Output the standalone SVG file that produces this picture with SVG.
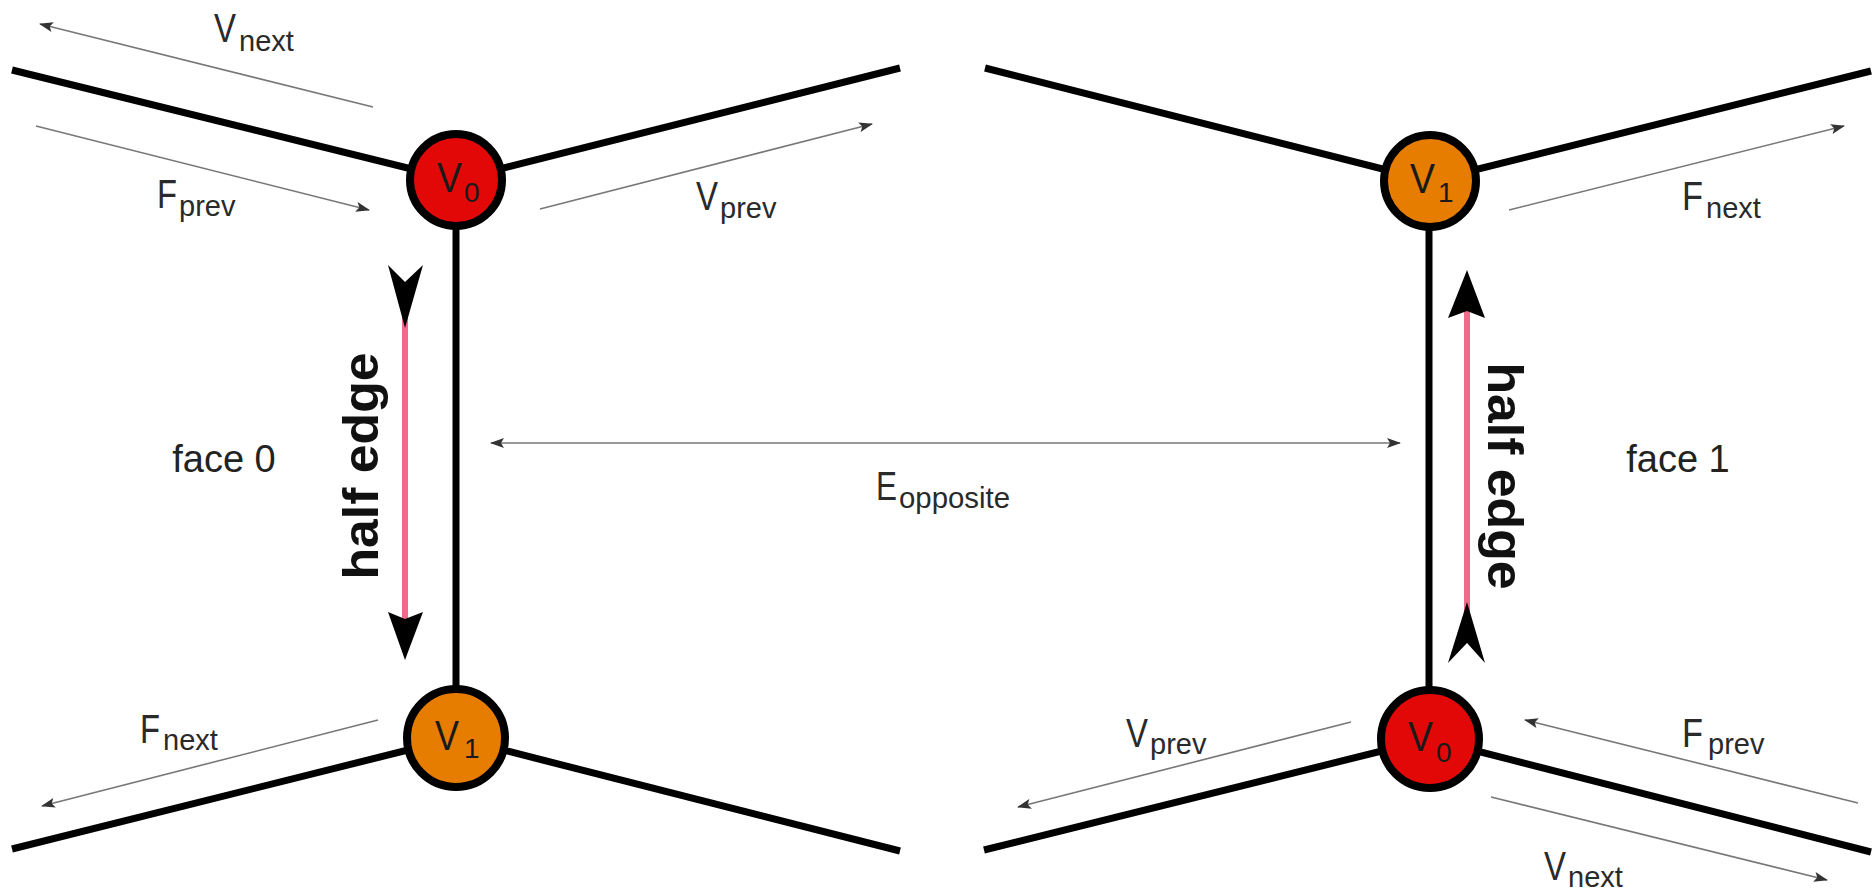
<svg xmlns="http://www.w3.org/2000/svg" width="1876" height="894" viewBox="0 0 1876 894">
<style>
.edge{stroke:#000;stroke-width:7;fill:none;stroke-linecap:butt}
.thin{stroke:#777;stroke-width:1.6;fill:none;marker-end:url(#ah)}
.v0{fill:#e30808;stroke:#000;stroke-width:8}
.v1{fill:#e67c00;stroke:#000;stroke-width:8}
.big{font-family:"Liberation Sans",Arial,sans-serif;font-size:40px;fill:#2a2a2a}
.sub{font-family:"Liberation Sans",Arial,sans-serif;font-size:29px;fill:#2a2a2a}
.cv{font-family:"Liberation Sans",Arial,sans-serif;font-size:42px;fill:#1a1a1a}
.cs{font-family:"Liberation Sans",Arial,sans-serif;font-size:28px;fill:#1a1a1a}
.face{font-family:"Liberation Sans",Arial,sans-serif;font-size:38px;fill:#222;text-anchor:middle}
.he{font-family:"Liberation Sans",Arial,sans-serif;font-size:50px;font-weight:bold;fill:#111;text-anchor:middle}
.pink{stroke:#f06b8b;stroke-width:6}
.head{fill:#000}
</style>
<defs>
<marker id="ah" viewBox="0 0 14 10" refX="13" refY="5" markerWidth="14" markerHeight="10" markerUnits="userSpaceOnUse" orient="auto-start-reverse">
<path d="M0,0 L14,5 L0,10 L3,5 z" fill="#333"/>
</marker>
</defs>
<rect width="1876" height="894" fill="#fff"/>
<g id="edges">
<line class="edge" x1="12" y1="70" x2="456" y2="180"/>
<line class="edge" x1="456" y1="180" x2="900" y2="68"/>
<line class="edge" x1="456" y1="180" x2="456" y2="738"/>
<line class="edge" x1="12" y1="849" x2="456" y2="738"/>
<line class="edge" x1="456" y1="738" x2="900" y2="851"/>
<line class="edge" x1="985" y1="68" x2="1430" y2="181"/>
<line class="edge" x1="1430" y1="181" x2="1871" y2="71"/>
<line class="edge" x1="1429" y1="181" x2="1429" y2="739"/>
<line class="edge" x1="984" y1="850" x2="1430" y2="739"/>
<line class="edge" x1="1430" y1="739" x2="1871" y2="852"/>
</g>
<g id="connectors">
<line class="thin" x1="373" y1="107" x2="40" y2="24"/>
<line class="thin" x1="36" y1="126" x2="369" y2="210"/>
<line class="thin" x1="540" y1="209" x2="872" y2="124"/>
<line class="thin" x1="378" y1="720" x2="42" y2="806"/>
<line class="thin" x1="1509" y1="210" x2="1844" y2="126"/>
<line class="thin" x1="1351" y1="722" x2="1018" y2="807"/>
<line class="thin" x1="1858" y1="803" x2="1525" y2="720"/>
<line class="thin" x1="1491" y1="797" x2="1827" y2="880"/>
<line class="thin" x1="491" y1="443" x2="1400" y2="443" style="marker-start:url(#ah)"/>
</g>
<g id="half-edge-0">
<line class="pink" x1="405" y1="300" x2="405" y2="620"/>
<path class="head" d="M388,265 L405,282 L423,265 L405,328 Z"/>
<path class="head" d="M388,612 L405,619 L423,612 L405,660 Z"/>
<text class="he" transform="translate(378,466) rotate(-90)" textLength="227" lengthAdjust="spacingAndGlyphs">half edge</text>
</g>
<g id="half-edge-1">
<line class="pink" x1="1467" y1="300" x2="1467" y2="630"/>
<path class="head" d="M1448,318 L1467,311 L1485,318 L1467,270 Z"/>
<path class="head" d="M1448,663 L1467,643 L1485,663 L1467,602 Z"/>
<text class="he" transform="translate(1488,476) rotate(90)" textLength="227" lengthAdjust="spacingAndGlyphs">half edge</text>
</g>
<g id="node-v0-left">
<circle class="v0" cx="456" cy="180" r="46"/>
<text class="cv" x="437" y="192" textLength="25" lengthAdjust="spacingAndGlyphs">V</text>
<text class="cs" x="464" y="202">0</text>
</g>
<g id="node-v1-left">
<circle class="v1" cx="456" cy="738" r="49"/>
<text class="cv" x="435" y="750" textLength="24" lengthAdjust="spacingAndGlyphs">V</text>
<text class="cs" x="464" y="758">1</text>
</g>
<g id="node-v1-right">
<circle class="v1" cx="1430" cy="181" r="46"/>
<text class="cv" x="1410" y="193" textLength="25" lengthAdjust="spacingAndGlyphs">V</text>
<text class="cs" x="1438" y="202">1</text>
</g>
<g id="node-v0-right">
<circle class="v0" cx="1430" cy="739" r="49"/>
<text class="cv" x="1408" y="751" textLength="25" lengthAdjust="spacingAndGlyphs">V</text>
<text class="cs" x="1436" y="762">0</text>
</g>
<g id="labels">
<text class="big" x="214" y="42" textLength="22" lengthAdjust="spacingAndGlyphs">V</text>
<text class="sub" x="239" y="51">next</text>
<text class="big" x="157" y="208" textLength="20" lengthAdjust="spacingAndGlyphs">F</text>
<text class="sub" x="179" y="216">prev</text>
<text class="big" x="696" y="210" textLength="22" lengthAdjust="spacingAndGlyphs">V</text>
<text class="sub" x="720" y="218">prev</text>
<text class="big" x="140" y="743" textLength="20" lengthAdjust="spacingAndGlyphs">F</text>
<text class="sub" x="163" y="750">next</text>
<text class="big" x="1682" y="210" textLength="21" lengthAdjust="spacingAndGlyphs">F</text>
<text class="sub" x="1706" y="218">next</text>
<text class="big" x="1126" y="747" textLength="22" lengthAdjust="spacingAndGlyphs">V</text>
<text class="sub" x="1150" y="754">prev</text>
<text class="big" x="1682" y="747" textLength="21" lengthAdjust="spacingAndGlyphs">F</text>
<text class="sub" x="1708" y="754">prev</text>
<text class="big" x="1544" y="880" textLength="22" lengthAdjust="spacingAndGlyphs">V</text>
<text class="sub" x="1568" y="887">next</text>
<text class="big" x="876" y="500" textLength="21" lengthAdjust="spacingAndGlyphs">E</text>
<text class="sub" x="899" y="508" textLength="111" lengthAdjust="spacingAndGlyphs">opposite</text>
<text class="face" x="224" y="472">face 0</text>
<text class="face" x="1678" y="472">face 1</text>
</g>
</svg>
